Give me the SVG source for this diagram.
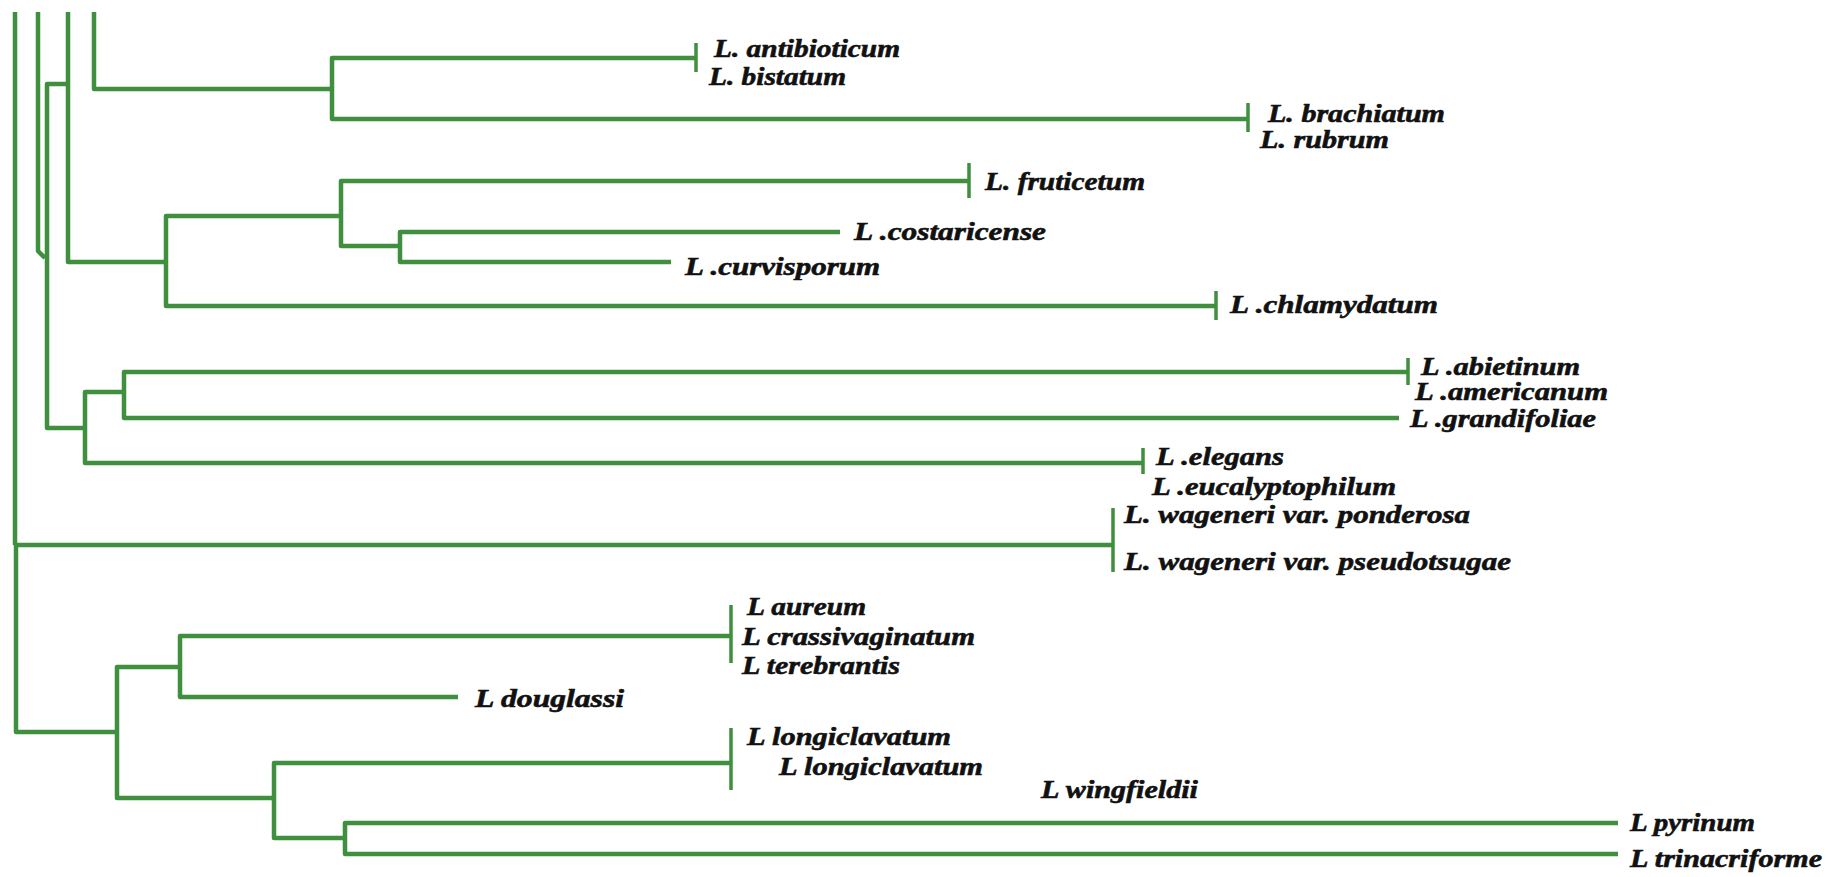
<svg xmlns="http://www.w3.org/2000/svg" width="1838" height="877" viewBox="0 0 1838 877">
  <style>
    .br { fill: none; stroke: #3f8f3f; stroke-width: 4.5; stroke-linejoin: round; stroke-linecap: butt; }
    .tk { fill: none; stroke: #3f8f3f; stroke-width: 3.5; }
    .lb { font-family: "Liberation Serif", "Times New Roman", serif; font-weight: bold; font-style: italic; font-size: 26px; fill: #111; stroke: #111; stroke-width: 0.6; }
  </style>
  <rect width="1838" height="877" fill="#ffffff"/>

  <!-- tree branches -->
  <g id="connectors">
    <!-- root and left stems -->
    <path class="br" d="M15,12 V545 M16,545 V732 H117"/>
    <path class="br" d="M15,545 H1113"/>
    <path class="br" d="M38,12 V251 L45,258"/>
    <path class="br" d="M68,84 H47 V428 H85"/>
    <path class="br" d="M68,12 V262 H166"/>
    <path class="br" d="M94,12 V89 H332"/>

    <!-- antibioticum / brachiatum clade -->
    <path class="br" d="M696,58 H332 V119 H1248"/>

    <!-- fruticetum / costaricense / curvisporum / chlamydatum clade -->
    <path class="br" d="M341,216 H166 V306 H1216"/>
    <path class="br" d="M969,181 H341 V246 H400"/>
    <path class="br" d="M840,232 H400 V262 H671"/>

    <!-- abietinum / grandifoliae / elegans clade -->
    <path class="br" d="M124,392 H85 V463 H1143"/>
    <path class="br" d="M1408,372 H124 V418 H1399"/>

    <!-- lower clade -->
    <path class="br" d="M180,667 H117 V798 H274"/>
    <path class="br" d="M731,636 H180 V697 H458"/>
    <path class="br" d="M731,763 H274 V838 H345"/>
    <path class="br" d="M1618,823 H345 V854 H1618"/>

    <!-- terminal ticks -->
    <path class="tk" d="M696,43 V72 M1248,103 V132 M969,163 V198 M1216,291 V320 M1408,358 V385 M1143,448 V474 M1113,508 V572 M731,605 V663 M731,728 V790"/>
  </g>

  <g id="antibioticum"><text class="lb" x="714" y="57" textLength="186" lengthAdjust="spacingAndGlyphs">L. antibioticum</text></g>
  <g id="bistatum"><text class="lb" x="709" y="85" textLength="137" lengthAdjust="spacingAndGlyphs">L. bistatum</text></g>
  <g id="brachiatum"><text class="lb" x="1268" y="122" textLength="177" lengthAdjust="spacingAndGlyphs">L. brachiatum</text></g>
  <g id="rubrum"><text class="lb" x="1260" y="148" textLength="129" lengthAdjust="spacingAndGlyphs">L. rubrum</text></g>
  <g id="fruticetum"><text class="lb" x="985" y="190" textLength="160" lengthAdjust="spacingAndGlyphs">L. fruticetum</text></g>
  <g id="costaricense"><text class="lb" x="854" y="240" textLength="192" lengthAdjust="spacingAndGlyphs">L .costaricense</text></g>
  <g id="curvisporum"><text class="lb" x="685" y="275" textLength="195" lengthAdjust="spacingAndGlyphs">L .curvisporum</text></g>
  <g id="chlamydatum"><text class="lb" x="1230" y="313" textLength="208" lengthAdjust="spacingAndGlyphs">L .chlamydatum</text></g>
  <g id="abietinum"><text class="lb" x="1421" y="375" textLength="159" lengthAdjust="spacingAndGlyphs">L .abietinum</text></g>
  <g id="americanum"><text class="lb" x="1415" y="400" textLength="193" lengthAdjust="spacingAndGlyphs">L .americanum</text></g>
  <g id="grandifoliae"><text class="lb" x="1410" y="427" textLength="186" lengthAdjust="spacingAndGlyphs">L .grandifoliae</text></g>
  <g id="elegans"><text class="lb" x="1156" y="465" textLength="128" lengthAdjust="spacingAndGlyphs">L .elegans</text></g>
  <g id="eucalyptophilum"><text class="lb" x="1152" y="495" textLength="244" lengthAdjust="spacingAndGlyphs">L .eucalyptophilum</text></g>
  <g id="wageneri-ponderosa"><text class="lb" x="1124" y="523" textLength="346" lengthAdjust="spacingAndGlyphs">L. wageneri var. ponderosa</text></g>
  <g id="wageneri-pseudotsugae"><text class="lb" x="1124" y="570" textLength="387" lengthAdjust="spacingAndGlyphs">L. wageneri var. pseudotsugae</text></g>
  <g id="aureum"><text class="lb" x="747" y="615" textLength="119" lengthAdjust="spacingAndGlyphs">L aureum</text></g>
  <g id="crassivaginatum"><text class="lb" x="742" y="645" textLength="233" lengthAdjust="spacingAndGlyphs">L crassivaginatum</text></g>
  <g id="terebrantis"><text class="lb" x="742" y="674" textLength="158" lengthAdjust="spacingAndGlyphs">L terebrantis</text></g>
  <g id="douglassi"><text class="lb" x="475" y="707" textLength="149" lengthAdjust="spacingAndGlyphs">L douglassi</text></g>
  <g id="longiclavatum-1"><text class="lb" x="747" y="745" textLength="204" lengthAdjust="spacingAndGlyphs">L longiclavatum</text></g>
  <g id="longiclavatum-2"><text class="lb" x="779" y="775" textLength="204" lengthAdjust="spacingAndGlyphs">L longiclavatum</text></g>
  <g id="wingfieldii"><text class="lb" x="1041" y="798" textLength="157" lengthAdjust="spacingAndGlyphs">L wingfieldii</text></g>
  <g id="pyrinum"><text class="lb" x="1630" y="831" textLength="125" lengthAdjust="spacingAndGlyphs">L pyrinum</text></g>
  <g id="trinacriforme"><text class="lb" x="1630" y="867" textLength="192" lengthAdjust="spacingAndGlyphs">L trinacriforme</text></g>
</svg>
